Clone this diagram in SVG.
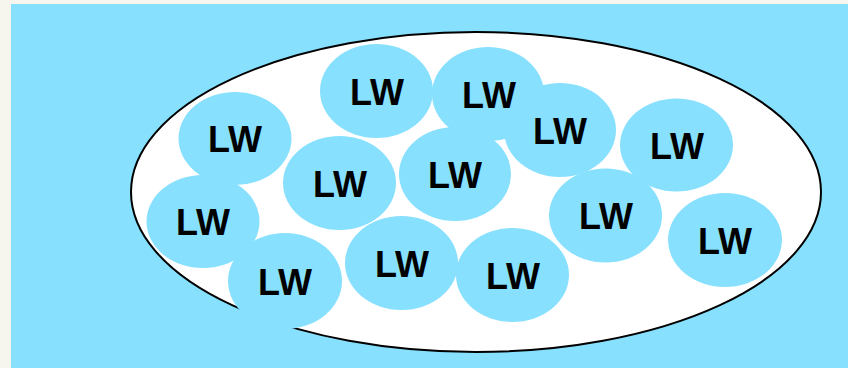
<svg xmlns="http://www.w3.org/2000/svg" width="848" height="368" viewBox="0 0 848 368">
<style>
.lw ellipse{fill:#86E0FE;stroke:none}
.lw text{font-family:"Liberation Sans",Arial,sans-serif;font-weight:bold;font-size:36px;fill:#000;text-anchor:middle}
</style>
<rect x="0" y="0" width="848" height="368" fill="#F6F6EF"/>
<rect x="11" y="4" width="837" height="364" fill="#86E0FE"/>
<g id="set">
<ellipse cx="476" cy="192" rx="345" ry="160" fill="#fff" stroke="#000" stroke-width="2"/>
</g>
<g id="connectors"></g>
<g id="lw1" class="lw"><ellipse cx="376.5" cy="91" rx="56.5" ry="47"/><text x="377" y="105">LW</text></g>
<g id="lw2" class="lw"><ellipse cx="488" cy="94" rx="56" ry="47"/><text x="489" y="108">LW</text></g>
<g id="lw3" class="lw"><ellipse cx="560" cy="130" rx="56" ry="47"/><text x="560" y="144">LW</text></g>
<g id="lw4" class="lw"><ellipse cx="676.5" cy="145" rx="56.5" ry="46.5"/><text x="677" y="159">LW</text></g>
<g id="lw5" class="lw"><ellipse cx="235" cy="138.5" rx="56.5" ry="46.5"/><text x="235" y="152">LW</text></g>
<g id="lw6" class="lw"><ellipse cx="339.5" cy="183" rx="56.5" ry="47"/><text x="340" y="197">LW</text></g>
<g id="lw7" class="lw"><ellipse cx="455" cy="174" rx="56" ry="47"/><text x="455" y="188">LW</text></g>
<g id="lw8" class="lw"><ellipse cx="203" cy="221.5" rx="56.5" ry="46.5"/><text x="203" y="235">LW</text></g>
<g id="lw9" class="lw"><ellipse cx="605.5" cy="215.5" rx="56.5" ry="47"/><text x="606" y="229">LW</text></g>
<g id="lw10" class="lw"><ellipse cx="725" cy="240" rx="57" ry="47"/><text x="725" y="254">LW</text></g>
<g id="lw11" class="lw"><ellipse cx="285" cy="281" rx="57" ry="48"/><text x="285" y="295">LW</text></g>
<g id="lw12" class="lw"><ellipse cx="401.5" cy="263" rx="56.5" ry="47"/><text x="402" y="277">LW</text></g>
<g id="lw13" class="lw"><ellipse cx="512.5" cy="275" rx="56.5" ry="47"/><text x="513" y="289">LW</text></g>
</svg>
